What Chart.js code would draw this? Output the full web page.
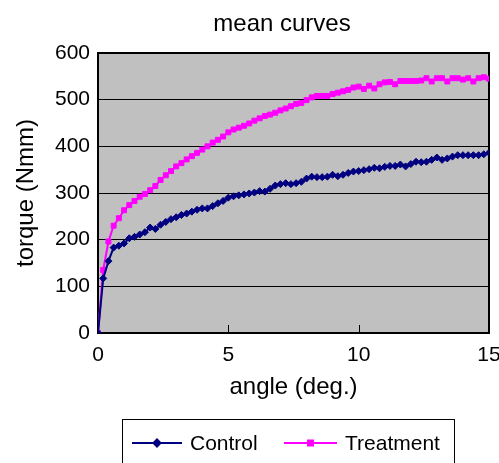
<!DOCTYPE html>
<html>
<head>
<meta charset="utf-8">
<title>mean curves</title>
<script src="https://cdn.jsdelivr.net/npm/chart.js@4.4.1/dist/chart.umd.min.js"></script>
<style>
  html, body { margin: 0; padding: 0; background: #fff; }
  #wrap { width: 499px; height: 463px; }
</style>
</head>
<body>
<div id="wrap"><canvas id="myChart" width="499" height="463"></canvas></div>
<script>
  // angle (deg.) sampled every 0.2
  const angles = [
    0, 0.2, 0.4, 0.6, 0.8, 1, 1.2, 1.4, 1.6, 1.8,
    2, 2.2, 2.4, 2.6, 2.8, 3, 3.2, 3.4, 3.6, 3.8,
    4, 4.2, 4.4, 4.6, 4.8, 5, 5.2, 5.4, 5.6, 5.8,
    6, 6.2, 6.4, 6.6, 6.8, 7, 7.2, 7.4, 7.6, 7.8,
    8, 8.2, 8.4, 8.6, 8.8, 9, 9.2, 9.4, 9.6, 9.8,
    10, 10.2, 10.4, 10.6, 10.8, 11, 11.2, 11.4, 11.6, 11.8,
    12, 12.2, 12.4, 12.6, 12.8, 13, 13.2, 13.4, 13.6, 13.8,
    14, 14.2, 14.4, 14.6, 14.8, 15
  ];

  const controlTorque = [
    0, 117, 154, 183, 187, 192, 203, 206, 211, 216,
    226, 223, 232, 238, 244, 248, 253, 256, 260, 264,
    267, 267, 272, 278, 283, 290, 293, 295, 297, 299,
    301, 304, 303, 309, 316, 319, 321, 319, 321, 324,
    331, 335, 334, 334, 335, 339, 336, 339, 343, 346,
    347, 349, 351, 354, 353, 356, 358, 358, 361, 357,
    362, 367, 366, 367, 371, 376, 371, 374, 378, 381,
    381, 381, 381, 381, 383, 386
  ];

  const treatmentTorque = [
    0, 135, 196, 230, 246, 263, 274, 283, 292, 298,
    306, 315, 328, 338, 347, 357, 364, 372, 379, 386,
    393, 400, 408, 414, 421, 430, 436, 440, 444, 449,
    455, 460, 465, 468, 472, 477, 481, 486, 491, 493,
    499, 505, 508, 508, 508, 512, 515, 518, 521, 526,
    528, 523, 530, 524, 533, 537, 538, 533, 540, 540,
    540, 540, 541, 546, 539, 546, 546, 539, 546, 546,
    543, 546, 539, 546, 548, 545
  ];

  const xTicks = [0, 5, 10, 15];
  const yTicks = [0, 100, 200, 300, 400, 500, 600];
  const chartTitle = 'mean curves';

  const FONT = "'Liberation Sans', Arial, sans-serif";

  const toPoints = ys => ys.map((v, i) => ({ x: angles[i], y: v }));

  // gray plot area, frame, inside x tick marks and the title
  const plotFrame = {
    id: 'plotFrame',
    beforeDraw(chart) {
      const { ctx, chartArea: a } = chart;
      ctx.save();
      ctx.fillStyle = '#C0C0C0';
      ctx.fillRect(a.left, a.top, a.right - a.left, a.bottom - a.top);
      ctx.fillStyle = '#000';
      ctx.font = '24px ' + FONT;
      ctx.textAlign = 'center';
      ctx.textBaseline = 'middle';
      ctx.fillText(chartTitle, 282, 24);
      ctx.restore();
    },
    beforeDatasetsDraw(chart) {
      const { ctx, chartArea: a } = chart;
      const xs = chart.scales.x;
      ctx.save();
      ctx.strokeStyle = '#000';
      ctx.lineWidth = 2;
      ctx.strokeRect(a.left, a.top, a.right - a.left, a.bottom - a.top);
      ctx.lineWidth = 1;
      xTicks.slice(1, -1).forEach(t => {
        const px = Math.round(xs.getPixelForValue(t)) + 0.5;
        ctx.beginPath();
        ctx.moveTo(px, a.bottom);
        ctx.lineTo(px, a.bottom - 8);
        ctx.stroke();
      });
      ctx.restore();
    }
  };

  // boxed legend under the chart, line with marker like the original
  const boxedLegend = {
    id: 'boxedLegend',
    afterDraw(chart) {
      const ctx = chart.ctx;
      const y = 443;
      ctx.save();
      ctx.strokeStyle = '#000';
      ctx.lineWidth = 1;
      ctx.strokeRect(122.5, 419.5, 332, 60);

      const items = [
        { ds: chart.data.datasets[0], x0: 132, x1: 182, tx: 190 },
        { ds: chart.data.datasets[1], x0: 284, x1: 337, tx: 345 }
      ];
      items.forEach(it => {
        ctx.strokeStyle = it.ds.borderColor;
        ctx.lineWidth = 2;
        ctx.beginPath();
        ctx.moveTo(it.x0, y);
        ctx.lineTo(it.x1, y);
        ctx.stroke();
        ctx.fillStyle = it.ds.pointBackgroundColor;
        ctx.strokeStyle = it.ds.pointBorderColor;
        Chart.helpers.drawPoint(ctx, {
          pointStyle: it.ds.pointStyle,
          radius: it.ds.pointRadius,
          borderWidth: 1
        }, (it.x0 + it.x1) / 2, y);
        ctx.fillStyle = '#000';
        ctx.font = '21px ' + FONT;
        ctx.textBaseline = 'middle';
        ctx.textAlign = 'left';
        ctx.fillText(it.ds.label, it.tx, y + 1);
      });
      ctx.restore();
    }
  };

  const ctx = document.getElementById('myChart').getContext('2d');
  const chart = new Chart(ctx, {
    type: 'line',
    data: {
      datasets: [
        {
          label: 'Control',
          data: toPoints(controlTorque),
          borderColor: '#000080',
          backgroundColor: '#000080',
          pointBackgroundColor: '#000080',
          pointBorderColor: '#000080',
          pointStyle: 'rectRot',
          pointRadius: 3.5,
          pointBorderWidth: 1,
          borderWidth: 2,
          tension: 0
        },
        {
          label: 'Treatment',
          data: toPoints(treatmentTorque),
          borderColor: '#FF00FF',
          backgroundColor: '#FF00FF',
          pointBackgroundColor: '#FF00FF',
          pointBorderColor: '#FF00FF',
          pointStyle: 'rect',
          pointRadius: 3.5,
          pointBorderWidth: 1,
          borderWidth: 2,
          tension: 0
        }
      ]
    },
    options: {
      responsive: false,
      animation: false,
      layout: { padding: { top: 53, left: 0, right: 0, bottom: 60 } },
      scales: {
        x: {
          type: 'linear',
          min: 0,
          max: 15,
          afterBuildTicks: s => { s.ticks = xTicks.map(v => ({ value: v })); },
          afterFit: s => { s.height = 70; s.paddingRight = 10; s.paddingLeft = 0; },
          grid: { display: false, drawTicks: false },
          border: { display: false },
          ticks: { color: '#000', font: { family: FONT, size: 21 }, padding: 10, maxRotation: 0 },
          title: { display: true, text: 'angle (deg.)', color: '#000', font: { family: FONT, size: 24 }, padding: { top: 0, bottom: 1 } }
        },
        y: {
          min: 0,
          max: 600,
          afterBuildTicks: s => { s.ticks = yTicks.map(v => ({ value: v })); },
          afterFit: s => { s.width = 98; s.paddingTop = 0; s.paddingBottom = 0; },
          grid: { color: '#000', lineWidth: 1, drawTicks: false },
          border: { display: false },
          ticks: { color: '#000', font: { family: FONT, size: 21 }, padding: 8 },
          title: { display: true, text: 'torque (Nmm)', color: '#000', font: { family: FONT, size: 24 }, padding: { top: 12, bottom: 0 } }
        }
      },
      plugins: {
        legend: { display: false },
        tooltip: { enabled: false },
        title: { display: false }
      }
    },
    plugins: [plotFrame, boxedLegend]
  });
</script>
</body>
</html>
